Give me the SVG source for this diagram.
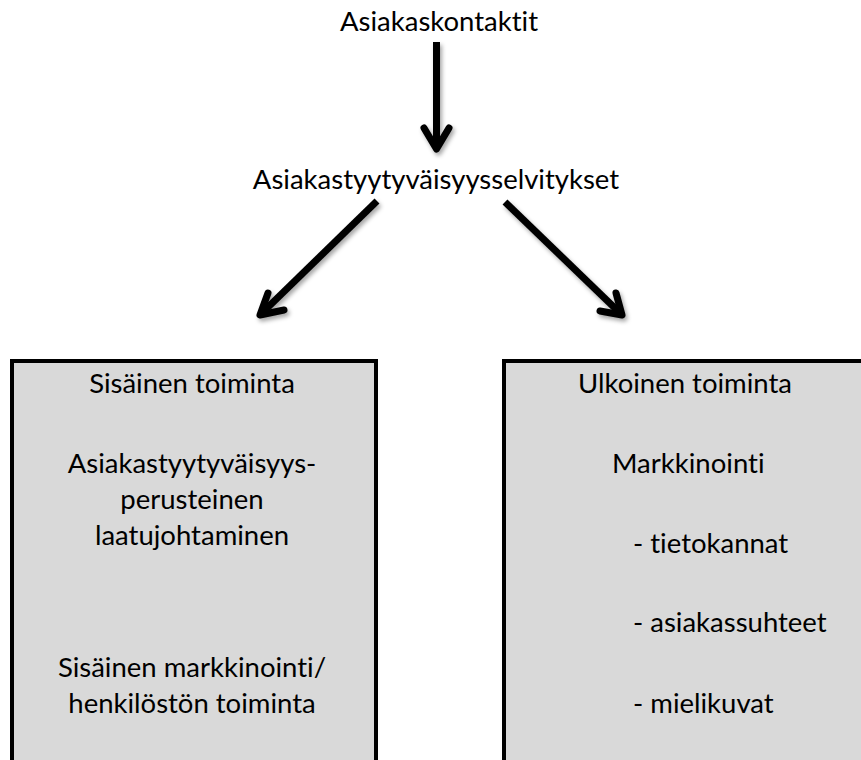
<svg xmlns="http://www.w3.org/2000/svg" width="861" height="760" viewBox="0 0 861 760">
  <style>
    .t { font-family: "Lato", "Liberation Sans", sans-serif; font-size: 27.5px; fill: #000; text-anchor: middle; font-variant-ligatures: none; }
    .l { text-anchor: start; }
    .box { fill: #d9d9d9; stroke: #000; stroke-width: 4; }
    .shaft { fill: none; stroke: #000; stroke-width: 7; stroke-linecap: butt; }
    .head { fill: none; stroke: #000; stroke-width: 7; stroke-linecap: round; stroke-linejoin: round; }
  </style>
  <defs>
    <filter id="soft" x="-20%" y="-20%" width="140%" height="140%">
      <feDropShadow dx="2" dy="3" stdDeviation="2" flood-color="#000" flood-opacity="0.35"/>
    </filter>
  </defs>
  <rect width="861" height="760" fill="#fff"/>

  <g id="n-kontaktit">
    <text class="t" x="439" y="31">Asiakaskontaktit</text>
  </g>

  <g id="n-selvitykset">
    <text class="t" x="436" y="189">Asiakastyytyväisyysselvitykset</text>
  </g>

  <g id="n-sisainen">
    <rect class="box" x="12" y="361" width="364" height="460"/>
    <text class="t" x="192" y="393">Sisäinen toiminta</text>
    <text class="t" x="192" y="473">Asiakastyytyväisyys-</text>
    <text class="t" x="192" y="509">perusteinen</text>
    <text class="t" x="192" y="545">laatujohtaminen</text>
    <text class="t" x="192" y="677">Sisäinen markkinointi/</text>
    <text class="t" x="192" y="713">henkilöstön toiminta</text>
  </g>

  <g id="n-ulkoinen">
    <rect class="box" x="504" y="361" width="366" height="460"/>
    <text class="t" x="685" y="393">Ulkoinen toiminta</text>
    <text class="t l" x="612" y="473">Markkinointi</text>
    <text class="t l" x="633" y="553">- tietokannat</text>
    <text class="t l" x="633" y="632">- asiakassuhteet</text>
    <text class="t l" x="633" y="713">- mielikuvat</text>
  </g>

  <g id="connectors" filter="url(#soft)">
    <line class="shaft" x1="436.5" y1="42" x2="436.5" y2="148"/>
    <polyline class="head" points="424,128 436.5,149 449,128"/>
    <line class="shaft" x1="377" y1="201" x2="262" y2="313"/>
    <polyline class="head" points="268,293 260,315 284,310"/>
    <line class="shaft" x1="505" y1="202" x2="620" y2="313"/>
    <polyline class="head" points="616,293 622,315 600,311"/>
  </g>
</svg>
